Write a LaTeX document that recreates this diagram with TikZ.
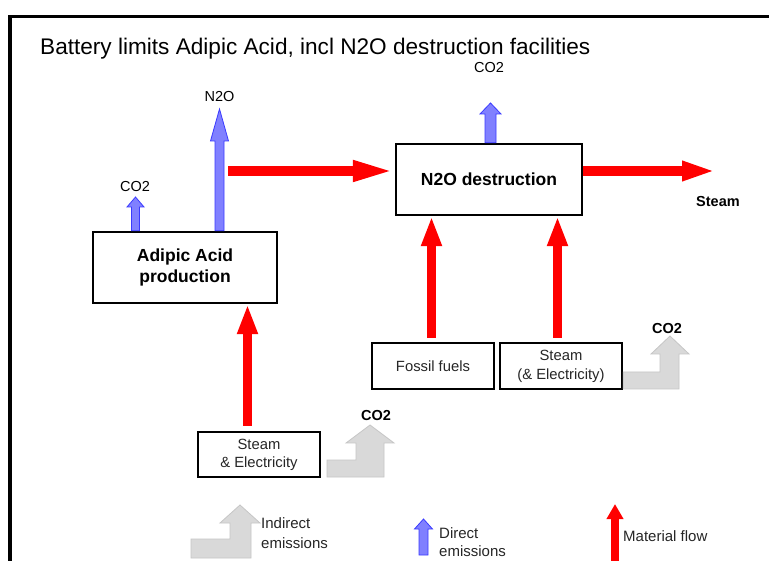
\documentclass[tikz,border=0pt]{standalone}
\usepackage{fontspec}
\setmainfont{Liberation Sans}
\usetikzlibrary{arrows.meta,calc}
\definecolor{redflow}{HTML}{FF0000}
\definecolor{bluefill}{HTML}{8080FF}
\definecolor{blueedge}{HTML}{3A3AFF}
\definecolor{greyfill}{HTML}{D9D9D9}
\definecolor{greyedge}{HTML}{C6C6C6}
\definecolor{txt}{HTML}{262626}
\newcommand{\blockup}[5]{%
  \filldraw[direct] let \p1=#1, \p2=#2 in
   (\x1-#3,\y1) -- (\x1-#3,\y2-#5) -- (\x1-#4,\y2-#5) -- (\x1,\y2) --
   (\x1+#4,\y2-#5) -- (\x1+#3,\y2-#5) -- (\x1+#3,\y1) -- cycle;}
\begin{document}
\begin{tikzpicture}[x=1pt,y=-1pt,
  box/.style={draw=black, line width=2.4pt, fill=white, inner sep=0pt, text=txt},
  bigtext/.style={font=\bfseries\fontsize{17.5}{21.5}\selectfont, text=black},
  smalltext/.style={font=\fontsize{14.8}{18.5}\selectfont, align=center},
  lbl/.style={font=\fontsize{14.5}{17}\selectfont, inner sep=0pt},
  lblb/.style={font=\bfseries\fontsize{14.5}{17}\selectfont, inner sep=0pt},
  legendtext/.style={font=\fontsize{15}{20}\selectfont, align=left, inner sep=0pt, anchor=west, text=txt},
  direct/.style={fill=bluefill, draw=blueedge, line width=0.8pt},
  indirect/.style={fill=greyfill, draw=greyedge, line width=0.8pt},
  flowbig/.style={draw=redflow, line width=9.5pt, -{Triangle[length=30pt,width=19pt]}},
  flowh/.style={draw=redflow, line width=9.5pt, -{Triangle[length=42pt,width=19pt]}},
  flowout/.style={draw=redflow, line width=9.5pt, -{Triangle[length=34pt,width=18pt]}},
  flowleg/.style={draw=redflow, line width=8pt, -{Triangle[length=15pt,width=16pt]}}
]
\useasboundingbox (0,0) rectangle (769,561);
\fill[white] (0,0) rectangle (769,561);
% frame
\draw[line width=3.3pt] (10,561) -- (10,16.5) -- (769,16.5);
% title
\node[anchor=base west, inner sep=0pt, font=\fontsize{22.6}{27}\selectfont] (title) at (40,55)
  {Battery limits Adipic Acid, incl N2O destruction facilities};

% boxes
\node[box, minimum width=184pt, minimum height=71pt, bigtext, align=center] (adipic) at (185,267.5)
  {Adipic Acid\\production};
\node[box, minimum width=186pt, minimum height=71pt, bigtext] (n2o) at (489,179.5)
  {N2O destruction};
\node[box, minimum width=122pt, minimum height=46pt, smalltext] (fossil) at (433,366)
  {Fossil fuels};
\node[box, minimum width=122pt, minimum height=46pt, smalltext, font=\fontsize{14.8}{19}\selectfont] (steamB) at (561,366)
  {Steam\\(\& Electricity)};
\node[box, minimum width=122pt, minimum height=45pt, smalltext, font=\fontsize{14.8}{18}\selectfont] (steamA) at (259,454.5)
  {Steam\\\& Electricity};

% direct emissions (blue)
\coordinate (n2otip) at (219.5,109);
\coordinate (co2atip) at (135.5,197);
\coordinate (co2btip) at (490.5,103);
\blockup{(n2otip |- adipic.north)}{(n2otip)}{4.5pt}{9pt}{32pt}
\blockup{(co2atip |- adipic.north)}{(co2atip)}{4pt}{8.5pt}{10pt}
\blockup{(co2btip |- n2o.north)}{(co2btip)}{5.5pt}{10.5pt}{11pt}
\node[lbl] (lN2O) at (219.5,97) {N2O};
\node[lbl] (lCO2a) at (135,187) {CO2};
\node[lbl] (lCO2b) at (489,68) {CO2};

% material flows (red)
\coordinate (r1s) at (228,171);
\coordinate (steamout) at (716,171);
\draw[flowh] (r1s) -- (r1s -| n2o.west);
\draw[flowout] (r1s -| n2o.east) -- (steamout);
\node[lblb] (lSteam) at (718,202) {Steam};
\coordinate (fa) at (247.5,426);
\draw[flowbig] (fa) -- (fa |- adipic.south);
\coordinate (fb) at (431.5,338);
\coordinate (fc) at (557.5,338);
\draw[flowbig] (fb) -- (fb |- n2o.south);
\draw[flowbig] (fc) -- (fc |- n2o.south);

% indirect emissions (grey)
\filldraw[indirect] (327,477) -- (384,477) -- (384,443) -- (394,443) -- (370,425)
  -- (346,443) -- (356,443) -- (356,460) -- (327,460) -- cycle;
\node[lblb] (lCO2c) at (376,416) {CO2};
\filldraw[indirect] (steamB.east |- 0,389) -- (679,389) -- (679,354) -- (689,354) -- (670,336)
  -- (651,354) -- (660,354) -- (660,372) -- (steamB.east |- 0,372) -- cycle;
\node[lblb] (lCO2d) at (667,329) {CO2};

% legend
\filldraw[indirect] (191,558) -- (251,558) -- (251,523) -- (260,523) -- (240,505)
  -- (220,523) -- (230,523) -- (230,539) -- (191,539) -- cycle;
\node[legendtext] (legInd) at (261,533) {Indirect\\emissions};
\coordinate (legBlueTip) at (423.5,519);
\blockup{(423.5,555)}{(legBlueTip)}{4.5pt}{9pt}{10pt}
\node[legendtext, font=\fontsize{15}{18}\selectfont] (legDir) at (439,542) {Direct\\emissions};
\coordinate (legRedBot) at (615,562);
\coordinate (legRedTip) at (615,504);
\draw[flowleg] (legRedBot) -- (legRedTip);
\node[legendtext] (legMat) at (623,536) {Material flow};
\end{tikzpicture}
\end{document}
